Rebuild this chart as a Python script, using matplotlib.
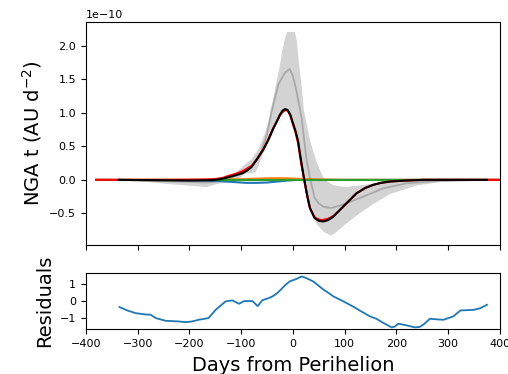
import numpy as np
import matplotlib
matplotlib.use('Agg')
import matplotlib.pyplot as plt

# observed NGA (black) and model (red), units of 1e-10 AU/d^2
obs_days = [-336, -300, -250, -200, -155, -140, -124, -110, -97, -88, -80, -70, -57, -47, -38, -31, -25, -20,
            -15, -10, -5, 0, 5, 10, 16, 22, 28, 33, 42, 50, 59, 68, 78, 88, 97, 110, 123, 140, 155, 170, 188,
            220, 252, 300, 375]
obs_vals = [0.0, -0.003, -0.006, -0.01, -0.005, 0.01, 0.04, 0.07, 0.1, 0.14, 0.19, 0.3, 0.45, 0.6, 0.76, 0.87,
            0.97, 1.03, 1.055, 1.04, 0.97, 0.85, 0.73, 0.58, 0.28, 0.0, -0.25, -0.42, -0.57, -0.61, -0.62, -0.6,
            -0.55, -0.47, -0.4, -0.3, -0.2, -0.12, -0.075, -0.045, -0.025, -0.01, 0.0, 0.0, 0.0]

model_days = [-380, -300, -250, -200, -170, -150, -135, -124, -110, -97, -88, -78, -68, -57, -47, -38, -31, -25,
              -20, -15, -10, -5, 0, 5, 10, 16, 22, 28, 33, 42, 50, 57, 68, 78, 88, 97, 110, 123, 140, 155, 170,
              188, 220, 252, 300, 420]
model_vals = [0.0, 0.0, 0.0, 0.002, 0.005, 0.012, 0.03, 0.06, 0.09, 0.13, 0.17, 0.22, 0.32, 0.46, 0.61, 0.77,
              0.87, 0.96, 1.01, 1.04, 1.03, 0.96, 0.83, 0.71, 0.55, 0.25, 0.0, -0.24, -0.42, -0.56, -0.59, -0.6,
              -0.58, -0.54, -0.47, -0.4, -0.3, -0.2, -0.12, -0.075, -0.045, -0.025, -0.01, 0.0, 0.0, 0.0]

# model components
comp_days = [-380, -200, -150, -120, -90, -70, -50, -30, -10, 10, 60, 100, 420]
blue_vals = [0.0, -0.005, -0.015, -0.03, -0.045, -0.045, -0.04, -0.025, -0.01, 0.0, 0.0, 0.0, 0.0]
orange_vals = [0.0, 0.002, 0.005, 0.008, 0.012, 0.018, 0.022, 0.025, 0.022, 0.015, 0.005, 0.0, 0.0]
green_vals = [0.0, 0.0, 0.0, 0.0, 0.0, 0.0, 0.0, 0.0, 0.0, 0.0, 0.0, 0.0, 0.0]

# mean of the sample (gray) and its spread
mean_days = [-336, -250, -200, -168, -150, -120, -100, -80, -61, -50, -41, -28, -15, -6, 0, 7, 17, 26, 33,
             42, 50, 59, 74, 97, 136, 175, 220, 285, 375]
mean_vals = [0.0, -0.02, -0.03, -0.04, -0.03, 0.03, 0.09, 0.2, 0.42, 0.68, 1.02, 1.42, 1.6, 1.65, 1.55, 1.32,
             0.92, 0.32, 0.03, -0.27, -0.35, -0.4, -0.42, -0.37, -0.25, -0.125, -0.05, -0.015, 0.0]

band_days = [-336, -300, -250, -200, -168, -150, -120, -106, -93, -80, -73, -67, -54, -48, -35, -25, -22, -15,
             -12, -5, 0, 3, 7, 10, 13, 16, 20, 22, 33, 45, 59, 72, 78, 91, 101, 123, 155, 188, 239, 285, 340, 375]
band_hi = [0.0, 0.0, 0.0, 0.0, 0.0, 0.01, 0.08, 0.15, 0.24, 0.32, 0.4, 0.47, 0.72, 0.88, 1.37, 1.75, 1.91, 2.15,
           2.21, 2.21, 2.21, 2.21, 2.06, 1.8, 1.6, 1.4, 1.07, 0.98, 0.57, 0.27, 0.02, -0.05, -0.07, -0.09, -0.1,
           -0.08, -0.05, -0.03, -0.01, 0.0, 0.0, 0.0]
band_lo = [0.0, -0.01, -0.05, -0.08, -0.1, -0.06, -0.01, 0.02, 0.1, 0.11, 0.12, 0.22, 0.5, 0.62, 0.8, 0.95,
           0.98, 1.03, 1.03, 0.95, 0.83, 0.75, 0.65, 0.55, 0.42, 0.25, 0.05, -0.05, -0.47, -0.65, -0.77, -0.82,
           -0.8, -0.72, -0.65, -0.52, -0.35, -0.2, -0.075, -0.025, 0.0, 0.0]

# residuals
res_days = [-335, -320, -304, -284, -275, -265, -246, -220, -207, -195, -182, -163, -149, -130, -117, -104,
            -94, -78, -68, -59, -46, -38, -30, -14, -6, 6, 17, 26, 39, 50, 59, 68, 78, 90, 104, 118, 130, 149,
            162, 175, 191, 197, 204, 220, 236, 245, 252, 265, 280, 291, 310, 324, 349, 362, 375]
res_vals = [-0.35, -0.55, -0.71, -0.79, -0.8, -1.0, -1.16, -1.2, -1.24, -1.2, -1.1, -1.0, -0.51, -0.02, 0.04,
            -0.16, 0.0, 0.0, -0.3, 0.05, 0.18, 0.3, 0.47, 0.96, 1.16, 1.29, 1.45, 1.35, 1.16, 0.9, 0.67, 0.5,
            0.28, 0.1, -0.12, -0.35, -0.57, -0.9, -1.05, -1.29, -1.55, -1.5, -1.33, -1.43, -1.55, -1.52, -1.39,
            -1.04, -1.08, -1.1, -0.9, -0.55, -0.52, -0.42, -0.22]

s = 1e-10

fig = plt.figure(figsize=(5.08, 3.74), dpi=100)
ax = fig.add_axes([0.169, 0.345, 0.815, 0.596])
ax2 = fig.add_axes([0.169, 0.120, 0.815, 0.150])

ax.fill_between(band_days, np.array(band_lo) * s, np.array(band_hi) * s, color='lightgray', lw=0)
ax.plot(mean_days, np.array(mean_vals) * s, color='darkgray', lw=1.3)
ax.plot(comp_days, np.array(blue_vals) * s, color='tab:blue', lw=1.5)
ax.plot(comp_days, np.array(orange_vals) * s, color='tab:orange', lw=1.5)
ax.plot(comp_days, np.array(green_vals) * s, color='tab:green', lw=1.5)
ax.plot(model_days, np.array(model_vals) * s, color='red', lw=1.5)
ax.plot(obs_days, np.array(obs_vals) * s, color='black', lw=1.5)

ax.set_xlim(-400, 400)
ax.set_ylim(-0.97e-10, 2.35e-10)
ax.set_xticks(np.arange(-400, 401, 100))
ax.tick_params(labelbottom=False, labelsize=8)
ax.yaxis.get_offset_text().set_fontsize(8)
ax.set_ylabel('NGA t (AU d$^{-2}$)', fontsize=14)

ax2.plot(res_days, res_vals, color='tab:blue', lw=1.3)
ax2.set_xlim(-400, 400)
ax2.set_ylim(-1.65, 1.65)
ax2.set_yticks([-1, 0, 1])
ax2.set_xticks(np.arange(-400, 401, 100))
ax2.tick_params(labelsize=8)
ax2.set_ylabel('Residuals', fontsize=14)
ax2.set_xlabel('Days from Perihelion', fontsize=14, labelpad=5)

fig.savefig('out.png', dpi=100)
